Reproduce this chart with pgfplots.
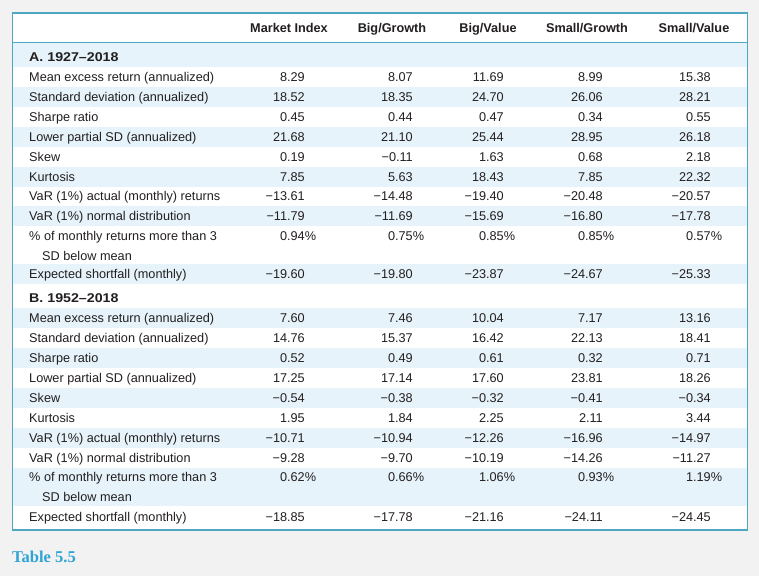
\documentclass[border=0pt]{standalone}
\usepackage{fontspec}
\setmainfont{Liberation Sans}
\newfontfamily\titlefont{Liberation Serif}
\newfontfamily\secfont[FakeStretch=1.12]{Liberation Sans}
\usepackage{pgfplots}
\usepackage{pgfplotstable}
\pgfplotsset{compat=1.18}
\definecolor{bgc}{HTML}{F2F2F2}
\definecolor{bordc}{HTML}{4FA6C1}
\definecolor{shadec}{HTML}{E6F3FA}
\definecolor{titlec}{HTML}{2EA4D6}
\definecolor{txt}{HTML}{231F20}
\protected\def\B{\secfont\bfseries}
\protected\def\ind{\hspace*{13pt}}
\protected\def\pct{\rlap{\%}}
\pgfplotstableread[col sep=comma]{
y,lab,a,b,c,d,e
56.5,{\B A. 1927–2018},{},{},{},{},{}
77,Mean excess return (annualized),8.29,8.07,11.69,8.99,15.38
97,Standard deviation (annualized),18.52,18.35,24.70,26.06,28.21
117,Sharpe ratio,0.45,0.44,0.47,0.34,0.55
137,Lower partial SD (annualized),21.68,21.10,25.44,28.95,26.18
157,Skew,0.19,−0.11,1.63,0.68,2.18
176.5,Kurtosis,7.85,5.63,18.43,7.85,22.32
196,VaR (1\%) actual (monthly) returns,−13.61,−14.48,−19.40,−20.48,−20.57
216,VaR (1\%) normal distribution,−11.79,−11.69,−15.69,−16.80,−17.78
236,\% of monthly returns more than 3,0.94\pct,0.75\pct,0.85\pct,0.85\pct,0.57\pct
255.5,\ind SD below mean,{},{},{},{},{}
274,Expected shortfall (monthly),−19.60,−19.80,−23.87,−24.67,−25.33
297.5,{\B B. 1952–2018},{},{},{},{},{}
318,Mean excess return (annualized),7.60,7.46,10.04,7.17,13.16
338,Standard deviation (annualized),14.76,15.37,16.42,22.13,18.41
358,Sharpe ratio,0.52,0.49,0.61,0.32,0.71
378,Lower partial SD (annualized),17.25,17.14,17.60,23.81,18.26
398,Skew,−0.54,−0.38,−0.32,−0.41,−0.34
418,Kurtosis,1.95,1.84,2.25,2.11,3.44
438,VaR (1\%) actual (monthly) returns,−10.71,−10.94,−12.26,−16.96,−14.97
458,VaR (1\%) normal distribution,−9.28,−9.70,−10.19,−14.26,−11.27
477,\% of monthly returns more than 3,0.62\pct,0.66\pct,1.06\pct,0.93\pct,1.19\pct
496.5,\ind SD below mean,{},{},{},{},{}
517,Expected shortfall (monthly),−18.85,−17.78,−21.16,−24.11,−24.45
}\datatable
\begin{document}
\begin{tikzpicture}
\begin{axis}[
  width=759pt, height=576pt, scale only axis,
  xmin=0, xmax=759, ymin=0, ymax=576, y dir=reverse,
  axis lines=none, clip=false,
  cell/.style={draw=none, mark=none, nodes near coords,
    point meta=explicit symbolic,
    nodes near coords style={anchor=east, inner sep=0pt, text height=9pt, text depth=0pt,
      font=\fontsize{12.7}{15}\selectfont, text=txt}},
]
% background and table box
\fill[bgc] (0,0) rectangle (759,576);
\fill[white] (12.5,13) rectangle (747.5,530);
\fill[shadec] (12.5,42.5) rectangle (747.5,67);
\fill[shadec] (12.5,87) rectangle (747.5,107);
\fill[shadec] (12.5,127) rectangle (747.5,147);
\fill[shadec] (12.5,167) rectangle (747.5,186.5);
\fill[shadec] (12.5,206) rectangle (747.5,226);
\fill[shadec] (12.5,264) rectangle (747.5,284);
\fill[shadec] (12.5,308) rectangle (747.5,328);
\fill[shadec] (12.5,348) rectangle (747.5,368);
\fill[shadec] (12.5,388) rectangle (747.5,408);
\fill[shadec] (12.5,428) rectangle (747.5,448);
\fill[shadec] (12.5,468) rectangle (747.5,506);
\draw[bordc, line width=1.3pt] (12.5,13) rectangle (747.5,530);
\draw[bordc, line width=1pt] (12.5,42.5) -- (747.5,42.5);
% column headers
\begin{scope}[every node/.style={font=\fontsize{12.7}{15}\selectfont\bfseries, text=txt, inner sep=0pt, text height=9pt, text depth=0pt, anchor=center}]
\node at (289,28) {Market Index};
\node at (392,28) {Big/Growth};
\node at (488,28) {Big/Value};
\node at (587,28) {Small/Growth};
\node at (694,28) {Small/Value};
\end{scope}
% row labels
\addplot[cell, nodes near coords style={anchor=west}] table[x expr=29, y=y, meta=lab] {\datatable};
% values
\addplot[cell] table[x expr=305, y=y, meta=a] {\datatable};
\addplot[cell] table[x expr=413, y=y, meta=b] {\datatable};
\addplot[cell] table[x expr=504, y=y, meta=c] {\datatable};
\addplot[cell] table[x expr=603, y=y, meta=d] {\datatable};
\addplot[cell] table[x expr=711, y=y, meta=e] {\datatable};
% caption
\node[anchor=west, inner sep=0pt, text=titlec, font=\titlefont\fontsize{16.5}{18}\selectfont\bfseries] at (12,557) {Table 5.5};
\end{axis}
\end{tikzpicture}
\end{document}
